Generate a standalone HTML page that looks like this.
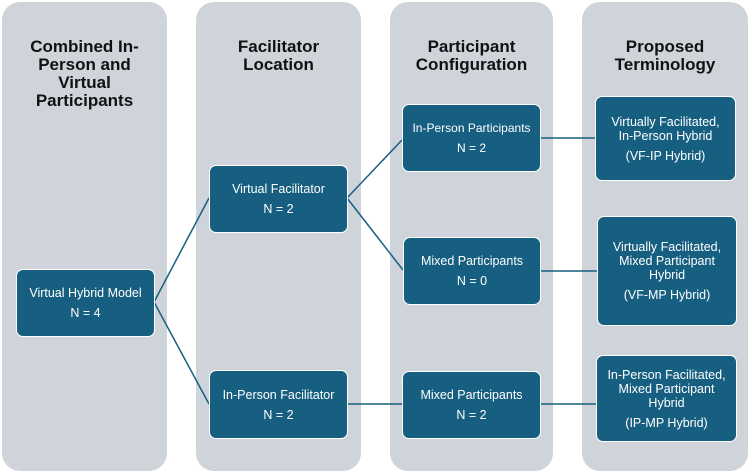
<!DOCTYPE html>
<html><head><style>
body{margin:0;width:750px;height:473px;background:#fff;position:relative;font-family:"Liberation Sans",sans-serif;overflow:hidden}
.col{position:absolute;top:2px;height:469px;background:#cfd4da;border-radius:18px}
.h{position:absolute;top:36px;left:0;right:0;text-align:center;font-weight:bold;font-size:17px;line-height:18px;color:#111}
.n{position:absolute;background:#175f80;border:1.5px solid #fff;border-radius:7px;color:#fff;font-size:12.5px;line-height:20px;display:flex;flex-direction:column;justify-content:center;align-items:center;text-align:center;box-sizing:border-box}
svg{position:absolute;left:0;top:0}
</style></head><body>
<div class="col" style="left:2px;width:165px"><div class="h">Combined In-<br>Person and<br>Virtual<br>Participants</div></div>
<div class="col" style="left:196px;width:165px"><div class="h">Facilitator<br>Location</div></div>
<div class="col" style="left:390px;width:163px"><div class="h">Participant<br>Configuration</div></div>
<div class="col" style="left:582px;width:166px"><div class="h">Proposed<br>Terminology</div></div>
<svg width="750" height="473"><g stroke="#175f80" stroke-width="1.5" fill="none">
<path d="M154 302L209 198M154 302L209 404M347 198L402 140M347 198L403 270M347 404L402 404M540 138L595 138M540 271L597 271M540 404L596 404"/></g></svg>
<div class="n" style="left:16px;top:269px;width:139px;height:68px">Virtual Hybrid Model<br>N = 4</div>
<div class="n" style="left:209px;top:165px;width:139px;height:68px">Virtual Facilitator<br>N = 2</div>
<div class="n" style="left:209px;top:370px;width:139px;height:69px">In-Person Facilitator<br>N = 2</div>
<div class="n" style="left:402px;top:104px;width:139px;height:68px;font-size:12px">In-Person Participants<br>N = 2</div>
<div class="n" style="left:403px;top:237px;width:138px;height:68px">Mixed Participants<br>N = 0</div>
<div class="n" style="left:402px;top:371px;width:139px;height:68px">Mixed Participants<br>N = 2</div>
<div class="n" style="left:595px;top:96px;width:141px;height:85px;line-height:14px;font-size:12.5px">Virtually Facilitated,<br>In-Person Hybrid<div style="margin-top:6px">(VF-IP Hybrid)</div></div>
<div class="n" style="left:597px;top:216px;width:140px;height:110px;line-height:14px;font-size:12.5px">Virtually Facilitated,<br>Mixed Participant<br>Hybrid<div style="margin-top:6px">(VF-MP Hybrid)</div></div>
<div class="n" style="left:596px;top:355px;width:141px;height:87px;line-height:14px;font-size:12.5px">In-Person Facilitated,<br>Mixed Participant<br>Hybrid<div style="margin-top:6px">(IP-MP Hybrid)</div></div>
</body></html>
